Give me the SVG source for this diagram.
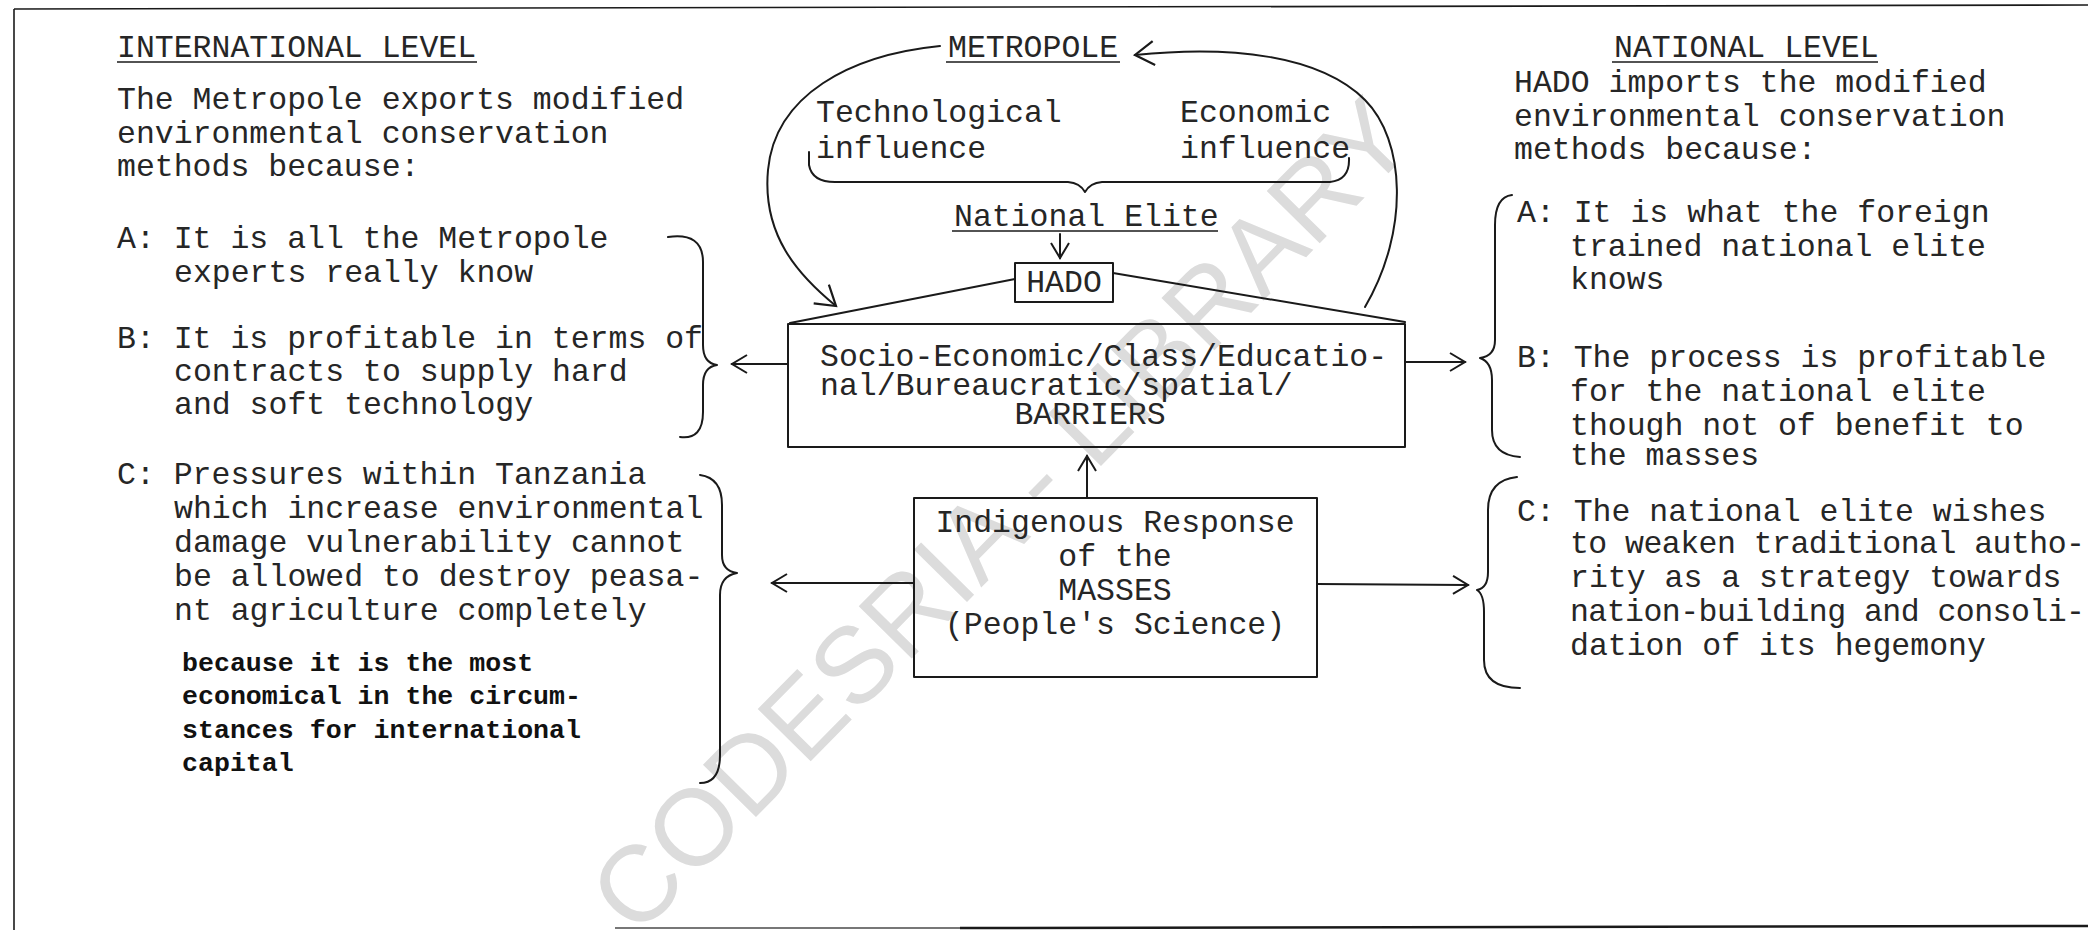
<svg xmlns="http://www.w3.org/2000/svg" width="2088" height="933" viewBox="0 0 2088 933">
<style>
.t{font-family:"Liberation Mono","DejaVu Sans Mono",monospace;font-size:31.5px;fill:#262626}
.b{font-family:"Liberation Mono","DejaVu Sans Mono",monospace;font-size:26.6px;font-weight:bold;fill:#111}
.c{text-anchor:middle}
.ln{fill:none;stroke:#1a1a1a;stroke-width:2;stroke-linecap:round;stroke-linejoin:round}
.ul{stroke:#1a1a1a;stroke-width:1.6}
.wm{font-family:"Liberation Sans",Arial,sans-serif;font-size:108px;fill:#dcdcdc;text-anchor:middle}
</style>
<defs>
<marker id="ah" markerUnits="userSpaceOnUse" markerWidth="30" markerHeight="30" viewBox="-20 -15 30 30" refX="0" refY="0" orient="auto"><path d="M-15,-9 L0,0 L-15,9" fill="none" stroke="#1a1a1a" stroke-width="2"/></marker>
<marker id="ahL" markerUnits="userSpaceOnUse" markerWidth="40" markerHeight="40" viewBox="-25 -20 40 40" refX="0" refY="0" orient="auto"><path d="M-19,-12 L0,0 L-19,12" fill="none" stroke="#1a1a1a" stroke-width="2.2"/></marker>
</defs>
<rect width="2088" height="933" fill="#fff"/>
<text class="wm" transform="translate(1000,515) rotate(-45.5)" dominant-baseline="central">CODESRIA - LIBRARY</text>
<g id="frame">
<line x1="14" y1="9" x2="2088" y2="5" class="ul" stroke-width="2"/>
<line x1="14" y1="9" x2="14" y2="930" class="ul" stroke-width="2"/>
<line x1="615" y1="928" x2="960" y2="928" stroke="#777" stroke-width="2"/>
<line x1="960" y1="928" x2="2088" y2="926" stroke="#1a1a1a" stroke-width="2.5"/>
</g>
<g id="international-level">
<text class="t" x="117" y="57">INTERNATIONAL LEVEL</text>
<line class="ul" x1="117" y1="62" x2="477" y2="62"/>
<text class="t" x="117" y="109">The Metropole exports modified</text>
<text class="t" x="117" y="143">environmental conservation</text>
<text class="t" x="117" y="176">methods because:</text>
</g>
<g id="int-A">
<text class="t" x="117" y="248">A: It is all the Metropole</text>
<text class="t" x="174" y="282">experts really know</text>
</g>
<g id="int-B">
<text class="t" x="117" y="348">B: It is profitable in terms of</text>
<text class="t" x="174" y="381">contracts to supply hard</text>
<text class="t" x="174" y="414">and soft technology</text>
</g>
<g id="int-C">
<text class="t" x="117" y="484">C: Pressures within Tanzania</text>
<text class="t" x="174" y="518">which increase environmental</text>
<text class="t" x="174" y="552">damage vulnerability cannot</text>
<text class="t" x="174" y="586">be allowed to destroy peasa-</text>
<text class="t" x="174" y="620">nt agriculture completely</text>
<text class="b" x="182" y="671">because it is the most</text>
<text class="b" x="182" y="704">economical in the circum-</text>
<text class="b" x="182" y="738">stances for international</text>
<text class="b" x="182" y="771">capital</text>
</g>
<g id="metropole">
<text class="t" x="948" y="57">METROPOLE</text>
<line class="ul" x1="946" y1="62" x2="1120" y2="62"/>
</g>
<g id="influences">
<text class="t" x="816" y="122">Technological</text>
<text class="t" x="816" y="158">influence</text>
<text class="t" x="1180" y="122">Economic</text>
<text class="t" x="1180" y="158">influence</text>
<path class="ln" d="M809,152 L809,165 Q812,182 835,182 L1068,182 Q1080,183 1085,192 Q1090,183 1102,182 L1330,182 Q1350,180 1349,158"/>
</g>
<g id="national-elite">
<text class="t" x="954" y="226">National Elite</text>
<line class="ul" x1="952" y1="231" x2="1218" y2="231"/>
</g>
<g id="hado">
<rect x="1015" y="263" width="98" height="39" class="ln"/>
<text class="t c" x="1064" y="292">HADO</text>
</g>
<g id="barriers">
<path class="ln" d="M1015,279 L790,323 M1113,273 L1405,322"/>
<rect x="788" y="324" width="617" height="123" class="ln"/>
<text class="t" x="820" y="366">Socio-Economic/Class/Educatio-</text>
<text class="t" x="820" y="395">nal/Bureaucratic/spatial/</text>
<text class="t c" x="1090" y="424">BARRIERS</text>
</g>
<g id="masses">
<rect x="914" y="498" width="403" height="179" class="ln"/>
<text class="t c" x="1115" y="532">Indigenous Response</text>
<text class="t c" x="1115" y="566">of the</text>
<text class="t c" x="1115" y="600">MASSES</text>
<text class="t c" x="1115" y="634">(People's Science)</text>
</g>
<g id="national-level">
<text class="t" x="1614" y="57">NATIONAL LEVEL</text>
<line class="ul" x1="1612" y1="62" x2="1878" y2="62"/>
<text class="t" x="1514" y="92">HADO imports the modified</text>
<text class="t" x="1514" y="126">environmental conservation</text>
<text class="t" x="1514" y="159">methods because:</text>
</g>
<g id="nat-A">
<text class="t" x="1517" y="222">A: It is what the foreign</text>
<text class="t" x="1570" y="256">trained national elite</text>
<text class="t" x="1570" y="289">knows</text>
</g>
<g id="nat-B">
<text class="t" x="1517" y="367">B: The process is profitable</text>
<text class="t" x="1570" y="401">for the national elite</text>
<text class="t" x="1570" y="435">though not of benefit to</text>
<text class="t" x="1570" y="465">the masses</text>
</g>
<g id="nat-C">
<text class="t" x="1517" y="521">C: The national elite wishes</text>
<text class="t" x="1570" y="553" textLength="515" lengthAdjust="spacing">to weaken traditional autho-</text>
<text class="t" x="1570" y="587">rity as a strategy towards</text>
<text class="t" x="1570" y="621" textLength="515" lengthAdjust="spacing">nation-building and consoli-</text>
<text class="t" x="1570" y="655">dation of its hegemony</text>
</g>
<g id="connectors">
<path class="ln" d="M940,46 C850,55 775,95 768,170 C762,235 798,275 836,306" marker-end="url(#ahL)"/>
<path class="ln" d="M1365,307 C1410,230 1405,140 1365,100 C1320,55 1230,45 1135,55" marker-end="url(#ahL)"/>
<line class="ln" x1="1060" y1="234" x2="1060" y2="258" marker-end="url(#ah)"/>
<line class="ln" x1="787" y1="364" x2="732" y2="364" marker-end="url(#ah)"/>
<line class="ln" x1="1405" y1="362" x2="1465" y2="362" marker-end="url(#ah)"/>
<line class="ln" x1="1087" y1="497" x2="1087" y2="456" marker-end="url(#ah)"/>
<line class="ln" x1="913" y1="583" x2="772" y2="583" marker-end="url(#ah)"/>
<line class="ln" x1="1317" y1="584" x2="1468" y2="585" marker-end="url(#ah)"/>
<path class="ln" d="M668,237 Q703,232 703,262 L703,345 Q703,363 717,365 Q703,367 703,385 L703,412 Q703,440 680,437"/>
<path class="ln" d="M700,475 Q722,478 722,505 L722,555 Q722,571 737,573 Q720,576 720,595 L720,755 Q720,783 700,783"/>
<path class="ln" d="M1512,195 Q1495,197 1495,225 L1495,340 Q1495,356 1480,358 Q1492,362 1492,380 L1492,430 Q1492,455 1520,457"/>
<path class="ln" d="M1517,477 Q1488,480 1488,510 L1488,572 Q1488,588 1477,590 Q1484,594 1484,612 L1484,660 Q1484,688 1520,688"/>
</g>
</svg>
